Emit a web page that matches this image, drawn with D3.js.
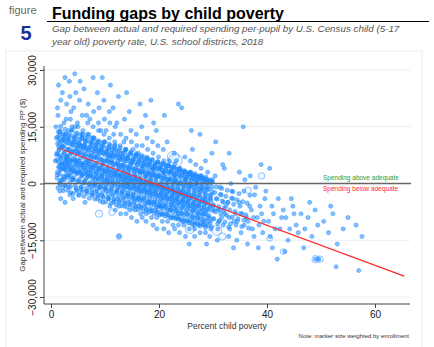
<!DOCTYPE html>
<html><head><meta charset="utf-8">
<script src="https://cdn.jsdelivr.net/npm/d3@7"></script>
<style>
html,body{margin:0;padding:0;background:#fff;}
svg{display:block;font-family:"Liberation Sans",Arial,Helvetica,sans-serif;}
</style></head>
<body>
<svg id="chart" width="434" height="347"></svg>
<script>
// ---------- data ----------
const xTicks = [0, 20, 40, 60];
const yTicks = [-30000, -15000, 0, 15000, 30000];
const regressionX = [1.7, 65.4];
const regressionCoef = [10100, -529]; // intercept, slope per % point
// districts: [percent child poverty, gap ($ thousands)]
const districts = [
[0.8,6],[1.0,12],[1.2,3],[1.3,18],[1.5,9],[1.6,-2],[1.7,14],[1.8,22],[1.9,5],[1.4,26],[1.1,8],[1.7,0.5],[0.9,15],[1.5,11],[1.8,-4],[1.2,20],
[2.1,10],[2.3,4],[2.4,16],[2.6,28],[2.8,7],[2.2,-1],[2.5,12],[2.9,21],[2.7,2],[2.3,13],[2.6,-5],[2.4,8],[2.8,17],[2.1,24],[2.9,6],[2.5,1],
[3.1,9],[3.3,14],[3.5,-3],[3.7,19],[3.2,5],[3.8,11],[3.4,27],[3.6,2],[3.9,15],[3.0,7],[3.5,23],[3.3,-1],[3.7,8],[3.1,12],[3.8,4],[3.6,17],
[4.1,10],[4.3,3],[4.6,13],[4.8,-2],[4.2,20],[4.5,6],[4.9,16],[4.4,29],[4.7,9],[4.0,1],[4.3,12],[4.8,5],[4.6,24],[4.1,-4],[4.9,11],[4.5,15],
[5.1,8],[5.4,13],[5.6,2],[5.8,18],[5.2,-3],[5.5,10],[5.9,5],[5.3,22],[5.7,12],[5.0,15],[5.6,-1],[5.2,6],[5.8,9],[5.4,27],[5.9,14],[5.1,3],
[6.1,7],[6.3,12],[6.6,-2],[6.8,16],[6.2,4],[6.5,9],[6.9,21],[6.4,1],[6.7,13],[6.0,10],[6.3,-5],[6.8,6],[6.6,18],[6.1,25],[6.9,3],[6.4,11],
[7.1,6],[7.4,11],[7.6,-3],[7.8,15],[7.2,2],[7.5,8],[7.9,19],[7.3,-1],[7.7,10],[7.0,13],[7.4,4],[7.8,28],[7.6,7],[7.2,17],[7.9,0],[7.5,12],
[8.1,5],[8.4,10],[8.6,-4],[8.8,14],[8.2,1],[8.5,7],[8.9,20],[8.3,-2],[8.7,9],[8.0,12],[8.4,3],[8.8,16],[8.6,24],[8.2,8],[8.9,-1],[8.5,11],
[9.1,4],[9.4,9],[9.6,-5],[9.8,13],[9.2,0],[9.5,6],[9.9,17],[9.3,-3],[9.7,8],[9.0,11],[9.4,2],[9.8,22],[9.6,5],[9.2,14],[9.9,-1],[9.5,10],
[10.1,3],[10.4,8],[10.6,-4],[10.8,12],[10.2,0],[10.5,6],[10.9,16],[10.3,-2],[10.7,9],[10.0,11],[10.4,1],[10.8,19],[10.6,4],[10.2,14],[10.9,-6],[10.5,7],
[11.1,2],[11.4,7],[11.6,-5],[11.8,11],[11.2,-1],[11.5,5],[11.9,15],[11.3,-3],[11.7,8],[11.0,10],[11.4,0],[11.8,3],[11.6,13],[11.2,6],[11.9,-7],[11.5,20],
[12.1,2],[12.4,6],[12.6,-6],[12.8,10],[12.2,-2],[12.5,4],[12.9,13],[12.3,-4],[12.7,7],[12.0,9],[12.4,-1],[12.8,2],[12.6,-14],[12.2,16],[12.9,-8],[12.5,5],
[13.1,1],[13.4,5],[13.6,-6],[13.8,9],[13.2,-2],[13.5,3],[13.9,12],[13.3,-4],[13.7,6],[13.0,8],[13.4,-1],[13.8,1],[13.6,17],[13.2,4],[13.9,-8],[13.5,11],
[14.1,0],[14.4,4],[14.6,-7],[14.8,8],[14.2,-3],[14.5,2],[14.9,11],[14.3,-5],[14.7,5],[14.0,7],[14.4,-1],[14.8,14],[14.6,1],[14.2,3],[14.9,-9],[14.5,19],
[15.1,0],[15.4,3],[15.6,-7],[15.8,7],[15.2,-3],[15.5,1],[15.9,10],[15.3,-5],[15.7,4],[15.0,6],[15.4,-1],[15.8,13],[15.6,2],[15.2,9],[15.9,-10],[15.5,-4],
[16.1,-1],[16.4,3],[16.6,-8],[16.8,6],[16.2,-4],[16.5,1],[16.9,10],[16.3,-6],[16.7,3],[16.0,5],[16.4,-2],[16.8,15],[16.6,0],[16.2,8],[16.9,-9],[16.5,-4],
[17.1,-1],[17.4,2],[17.6,-8],[17.8,5],[17.2,-4],[17.5,0],[17.9,9],[17.3,-6],[17.7,2],[17.0,4],[17.4,-2],[17.8,12],[17.6,-10],[17.2,7],[17.9,-5],[17.5,18],
[18.1,-2],[18.4,1],[18.6,-9],[18.8,4],[18.2,-5],[18.5,-1],[18.9,8],[18.3,-7],[18.7,2],[18.0,3],[18.4,-3],[18.8,11],[18.6,0],[18.2,6],[18.9,-11],[18.5,-5],
[19.1,-2],[19.4,1],[19.6,-9],[19.8,4],[19.2,-5],[19.5,-1],[19.9,7],[19.3,-7],[19.7,2],[19.0,3],[19.4,-3],[19.8,10],[19.6,-12],[19.2,5],[19.9,-6],[19.5,14],
[20.1,-3],[20.4,0],[20.6,-10],[20.8,3],[20.2,-6],[20.5,-2],[20.9,6],[20.3,-8],[20.7,1],[20.0,2],[20.4,-4],[20.8,9],[20.6,-1],[20.2,4],[20.9,-12],[20.5,-6],
[21.1,-3],[21.4,0],[21.6,-10],[21.8,3],[21.2,-6],[21.5,-2],[21.9,6],[21.3,-8],[21.7,1],[21.0,2],[21.4,-4],[21.8,-13],[21.6,-1],[21.2,5],[21.9,-7],[21.5,11],
[22.1,-4],[22.4,-1],[22.6,-11],[22.8,2],[22.2,-7],[22.5,-3],[22.9,5],[22.3,-9],[22.7,0],[22.0,1],[22.4,-5],[22.8,8],[22.6,-2],[22.2,3],[22.9,-12],[22.5,-6],
[23.1,-4],[23.4,-1],[23.6,-11],[23.8,2],[23.2,-7],[23.5,-3],[23.9,4],[23.3,-9],[23.7,0],[23.0,1],[23.4,-5],[23.6,21],[23.8,-13],[23.2,6],[23.9,-2],[23.5,-8],
[24.1,-5],[24.4,-2],[24.6,-11],[24.8,1],[24.2,-8],[24.5,-4],[24.9,3],[24.3,-10],[24.7,-1],[24.0,0],[24.4,-6],[24.8,7],[24.6,-3],[24.2,20],[24.9,-14],
[25.1,-5],[25.4,-2],[25.6,-12],[25.8,0],[25.2,-8],[25.5,-4],[25.9,3],[25.3,-10],[25.7,-1],[25.0,1],[25.4,-6],[25.8,6],[25.6,-16],[25.2,-3],
[26.1,-6],[26.4,-3],[26.6,-12],[26.8,0],[26.2,-9],[26.5,-5],[26.9,2],[26.3,-11],[26.7,-2],[26.0,1],[26.4,-7],[26.8,5],[26.6,-14],[26.2,9],
[27.1,-6],[27.4,-3],[27.6,-13],[27.8,-1],[27.2,-9],[27.5,-5],[27.9,2],[27.3,-11],[27.7,-2],[27.0,0],[27.4,-8],[27.8,4],[27.6,13],
[28.1,-7],[28.4,-4],[28.6,-13],[28.8,-1],[28.2,-10],[28.5,-5],[28.9,1],[28.3,-11],[28.7,-3],[28.0,0],[28.4,-8],[28.8,-16],[28.6,6],
[29.1,-7],[29.4,-4],[29.6,-12],[29.8,-1],[29.2,-10],[29.5,-6],[29.9,1],[29.3,-9],[29.7,-3],[29.0,3],[29.4,-14],[29.8,8],
[30.2,-7],[30.6,-4],[30.9,-12],[31.3,-1],[31.6,-9],[31.9,-5],[30.4,2],[31.1,-10],[31.5,-3],[30.8,-15],[31.8,5],[30.1,-6],[31.2,-7],
[32.2,-8],[32.7,-5],[33.1,-12],[33.5,-2],[33.9,-10],[32.4,-6],[33.3,0],[32.9,-14],[33.7,-4],[32.1,4],[33.0,-9],[33.8,-17],
[34.2,-8],[34.8,-5],[35.2,-13],[35.7,-2],[34.5,-10],[35.0,-6],[35.9,1],[34.4,-15],[35.4,-8],[34.9,3],[35.6,15],[35.8,-11],
[36.2,-9],[36.8,-6],[37.3,-12],[37.7,-3],[36.5,-10],[37.1,-7],[37.9,-1],[36.4,-16],[37.5,-9],[36.9,2],[37.6,-14],
[38.2,-9],[38.7,-6],[39.2,-13],[39.6,-4],[38.5,-11],[39.0,-8],[39.8,-2],[38.4,-17],[39.4,-10],[38.9,5],
[40.3,-10],[40.9,-6],[41.5,-12],[42.1,-4],[42.7,-9],[40.6,-14],[41.2,-8],[41.9,-20],[42.4,-12],[43.0,-7],[41.0,-17],
[43.5,-9],[44.2,-12],[44.8,-6],[45.4,-11],[43.9,-15],[45.0,-8],[45.8,-13],[44.5,-4],[43.3,-18],
[46.3,-8],[47.0,-12],[47.6,-9],[48.3,-14],[46.8,-17],[48.9,-7],[49.4,-11],[47.9,-5],[49.0,-20],[49.6,-20],
[50.5,-10],[51.4,-13],[52.2,-8],[53.0,-16],[54.1,-12],[55.0,-9],[52.8,-22],[56.5,-11],[57.6,-14],[51.8,-6],[57.0,-23],
[18.5,22],[21.0,18],[14.0,24],[26.0,14],[30.5,11],[33.0,8],[40.5,4],[19.0,16],[11.0,26],[9.5,28],[16.5,21],[12.5,23]
];
// dense core of districts: [percent child poverty, gap ($ thousands)]
const coreDistricts = [
[1.07,6.2],[1.13,1.4],[1.21,10.5],[1.28,-1.1],[1.36,13.7],[1.41,4.3],[1.49,8.9],[1.55,2.6],[1.62,11.8],[1.68,6.9],[1.74,-0.3],[1.79,15.1],[1.85,3.7],[1.91,9.6],[1.96,5.2],[1.33,7.8],[1.58,12.9],[1.87,0.8],
[2.04,5.7],[2.11,0.9],[2.18,9.8],[2.26,-1.9],[2.33,12.6],[2.39,3.8],[2.46,8.2],[2.52,1.7],[2.61,14.3],[2.67,6.4],[2.73,-0.6],[2.78,10.9],[2.84,4.6],[2.92,7.3],[2.97,2.9],[2.29,11.4],[2.56,5.1],[2.89,13.2],
[3.03,5.4],[3.09,-1.8],[3.17,9.1],[3.24,2.2],[3.31,12.7],[3.38,4.1],[3.44,7.6],[3.51,0.3],[3.58,10.4],[3.63,6.3],[3.71,-2.4],[3.77,13.9],[3.83,3.4],[3.88,8.5],[3.95,1.2],[3.27,11.6],[3.55,5.8],[3.92,14.2],
[4.02,4.8],[4.08,-2.7],[4.15,8.6],[4.23,1.5],[4.29,12.1],[4.36,3.6],[4.43,7.1],[4.49,-0.4],[4.57,10.2],[4.62,5.7],[4.69,-1.6],[4.76,13.4],[4.82,2.8],[4.89,8.0],[4.94,0.6],[4.32,11.0],[4.53,6.2],[4.97,9.3],
[5.04,4.4],[5.12,-3.1],[5.18,8.3],[5.25,1.1],[5.31,11.6],[5.38,3.2],[5.45,6.7],[5.52,-0.9],[5.59,9.8],[5.64,5.3],[5.72,-2.2],[5.78,12.8],[5.84,2.4],[5.91,7.6],[5.97,0.2],[5.29,10.5],[5.55,4.9],[5.86,13.1],
[6.03,4.0],[6.1,-3.4],[6.17,7.9],[6.24,0.7],[6.32,11.2],[6.37,2.9],[6.44,6.2],[6.51,-1.3],[6.57,9.4],[6.65,4.8],[6.71,-2.6],[6.79,12.3],[6.85,2.0],[6.9,7.1],[6.96,-0.2],[6.28,10.1],[6.6,5.5],[6.88,8.6],
[7.05,3.6],[7.11,-3.9],[7.19,7.4],[7.26,0.3],[7.33,10.7],[7.39,2.5],[7.46,5.8],[7.53,-1.7],[7.6,8.9],[7.66,4.3],[7.73,-3.0],[7.8,11.8],[7.86,1.6],[7.93,6.6],[7.98,-0.6],[7.3,9.7],[7.57,4.9],[7.89,12.1],
[8.04,3.2],[8.1,-4.1],[8.18,7.0],[8.25,-0.1],[8.31,10.2],[8.38,2.1],[8.45,5.4],[8.52,-2.0],[8.58,8.5],[8.65,3.9],[8.72,-3.3],[8.78,11.3],[8.85,1.2],[8.91,6.2],[8.97,-1.0],[8.28,9.2],[8.55,4.6],[8.93,7.7],
[9.03,2.8],[9.09,-4.6],[9.17,6.5],[9.24,-0.5],[9.3,9.8],[9.37,1.7],[9.44,5.0],[9.51,-2.4],[9.58,8.1],[9.64,3.4],[9.71,-3.7],[9.77,10.9],[9.84,0.8],[9.9,5.8],[9.96,-1.4],[9.27,8.8],[9.54,4.1],[9.87,11.0],
[10.04,2.4],[10.11,-4.9],[10.17,6.1],[10.25,-0.9],[10.32,9.3],[10.38,1.3],[10.45,4.6],[10.52,-2.8],[10.58,7.6],[10.66,3.0],[10.72,-4.0],[10.79,10.4],[10.85,0.4],[10.91,5.4],[10.98,-1.8],[10.29,8.4],[10.56,3.7],[10.88,7.1],
[11.03,2.0],[11.1,-5.2],[11.16,5.7],[11.24,-1.3],[11.31,8.9],[11.37,0.9],[11.44,4.2],[11.5,-3.1],[11.57,7.2],[11.64,2.6],[11.71,-4.4],[11.78,9.9],[11.84,0.0],[11.9,5.0],[11.97,-2.2],[11.27,8.0],[11.54,3.3],[11.87,10.1],
[12.05,1.6],[12.12,-5.6],[12.18,5.3],[12.25,-1.7],[12.33,8.4],[12.39,0.5],[12.46,3.8],[12.53,-3.5],[12.6,6.8],[12.66,2.2],[12.73,-4.8],[12.8,9.4],[12.86,-0.4],[12.92,4.6],[12.98,-2.6],[12.3,7.6],[12.57,2.9],[12.89,6.3],
[13.04,1.2],[13.1,-5.9],[13.18,4.9],[13.25,-2.1],[13.31,8.0],[13.38,0.1],[13.45,3.4],[13.52,-3.9],[13.58,6.4],[13.65,1.8],[13.72,-5.1],[13.78,8.9],[13.85,-0.8],[13.91,4.2],[13.97,-3.0],[13.28,7.2],[13.55,2.5],[13.88,9.0],
[14.03,0.8],[14.09,-6.3],[14.17,4.5],[14.24,-2.5],[14.3,7.5],[14.37,-0.3],[14.44,3.0],[14.51,-4.3],[14.57,6.0],[14.64,1.4],[14.71,-5.5],[14.77,8.4],[14.84,-1.2],[14.9,3.8],[14.96,-3.4],[14.27,6.8],[14.54,2.1],[14.87,5.3],
[15.04,0.4],[15.11,-6.6],[15.17,4.1],[15.25,-2.9],[15.32,7.1],[15.38,-0.7],[15.45,2.6],[15.52,-4.7],[15.58,5.6],[15.66,1.0],[15.72,-5.9],[15.79,7.9],[15.85,-1.6],[15.91,3.4],[15.98,-3.8],[15.29,6.4],[15.56,1.7],[15.88,7.6],
[16.03,0.0],[16.1,-6.9],[16.16,3.7],[16.24,-3.3],[16.31,6.6],[16.37,-1.1],[16.44,2.2],[16.5,-5.1],[16.57,5.2],[16.64,0.6],[16.71,-6.3],[16.78,7.4],[16.84,-2.0],[16.9,3.0],[16.97,-4.2],[16.27,6.0],[16.54,1.3],[16.87,4.5],
[17.05,-0.4],[17.12,-7.3],[17.18,3.3],[17.25,-3.7],[17.33,6.2],[17.39,-1.5],[17.46,1.8],[17.53,-5.5],[17.6,4.8],[17.66,0.2],[17.73,-6.7],[17.8,6.9],[17.86,-2.4],[17.92,2.6],[17.98,-4.6],[17.3,5.6],[17.57,0.9],[17.89,6.6],
[18.04,-0.8],[18.1,-7.6],[18.18,2.9],[18.25,-4.1],[18.31,5.8],[18.38,-1.9],[18.45,1.4],[18.52,-5.9],[18.58,4.4],[18.65,-0.2],[18.72,-7.1],[18.78,6.4],[18.85,-2.8],[18.91,2.2],[18.97,-5.0],[18.28,5.2],[18.55,0.5],[18.88,3.7],
[19.03,-1.2],[19.09,-8.0],[19.17,2.5],[19.24,-4.5],[19.3,5.3],[19.37,-2.3],[19.44,1.0],[19.51,-6.3],[19.57,4.0],[19.64,-0.6],[19.71,-7.5],[19.77,5.8],[19.84,-3.2],[19.9,1.8],[19.96,-5.4],[19.27,4.8],[19.54,0.1],[19.87,5.6],
[20.04,-1.6],[20.11,-8.3],[20.17,2.1],[20.25,-4.9],[20.32,4.9],[20.38,-2.7],[20.45,0.6],[20.52,-6.7],[20.58,3.6],[20.66,-1.0],[20.72,-7.9],[20.79,5.3],[20.85,-3.6],[20.91,1.4],[20.98,-5.8],[20.29,4.4],[20.56,-0.3],[20.88,3.0],
[21.03,-2.0],[21.1,-8.6],[21.16,1.7],[21.24,-5.3],[21.31,4.5],[21.37,-3.1],[21.44,0.2],[21.5,-7.1],[21.57,3.2],[21.64,-1.4],[21.71,-8.2],[21.78,4.8],[21.84,-4.0],[21.9,1.0],[21.97,-6.2],[21.27,4.0],[21.54,-0.7],[21.87,4.6],
[22.05,-2.4],[22.12,-9.0],[22.18,1.3],[22.25,-5.7],[22.33,4.1],[22.39,-3.5],[22.46,-0.2],[22.53,-7.5],[22.6,2.8],[22.66,-1.8],[22.73,-8.6],[22.8,4.2],[22.86,-4.4],[22.92,0.6],[22.98,-6.6],[22.3,3.6],[22.57,-1.1],[22.89,2.3],
[23.04,-2.8],[23.1,-9.3],[23.18,0.9],[23.25,-6.1],[23.31,3.7],[23.38,-3.9],[23.45,-0.6],[23.52,-7.9],[23.58,2.4],[23.65,-2.2],[23.72,-9.0],[23.78,3.7],[23.85,-4.8],[23.91,0.2],[23.97,-7.0],[23.28,3.2],[23.55,-1.5],[23.88,3.5],
[24.03,-3.2],[24.09,-9.6],[24.17,0.5],[24.24,-6.5],[24.3,3.2],[24.37,-4.3],[24.44,-1.0],[24.51,-8.3],[24.57,2.0],[24.64,-2.6],[24.71,-9.4],[24.77,3.1],[24.84,-5.2],[24.9,-0.2],[24.96,-7.4],[24.27,2.8],[24.54,-1.9],[24.87,1.6],
[25.04,-3.6],[25.11,-9.9],[25.17,0.1],[25.25,-6.9],[25.32,2.7],[25.38,-4.7],[25.45,-1.4],[25.52,-8.7],[25.58,1.6],[25.66,-3.0],[25.72,-9.8],[25.79,2.6],[25.85,-5.6],[25.91,-0.6],[25.98,-7.8],[25.29,2.4],[25.56,-2.3],[25.88,2.5],
[26.03,-4.0],[26.1,-10.2],[26.16,-0.3],[26.24,-7.3],[26.31,2.3],[26.37,-5.1],[26.44,-1.8],[26.5,-9.1],[26.57,1.2],[26.64,-3.4],[26.71,-10.2],[26.78,2.1],[26.84,-6.0],[26.9,-1.0],[26.97,-8.2],[26.27,2.0],[26.54,-2.7],[26.87,0.8],
[27.05,-4.4],[27.12,-10.5],[27.18,-0.7],[27.25,-7.7],[27.33,1.9],[27.39,-5.5],[27.46,-2.2],[27.53,-9.5],[27.6,0.8],[27.66,-3.8],[27.73,-10.6],[27.8,1.5],[27.86,-6.4],[27.92,-1.4],[27.98,-8.6],[27.3,1.6],[27.57,-3.1],[27.89,1.3],
[28.04,-4.8],[28.1,-10.8],[28.18,-1.1],[28.25,-8.1],[28.31,1.4],[28.38,-5.9],[28.45,-2.6],[28.52,-9.9],[28.58,0.4],[28.65,-4.2],[28.72,-11.0],[28.78,1.0],[28.85,-6.8],[28.91,-1.8],[28.97,-9.0],[28.28,1.2],[28.55,-3.5],[28.88,0.1],
[29.03,-5.2],[29.09,-11.1],[29.17,-1.5],[29.24,-8.5],[29.3,0.9],[29.37,-6.3],[29.44,-3.0],[29.51,-10.3],[29.57,0.0],[29.64,-4.6],[29.71,-11.4],[29.77,0.5],[29.84,-7.2],[29.9,-2.2],[29.96,-9.4],[29.27,0.8],[29.54,-3.9],[29.87,0.4]
];
// second layer of the dense core: [percent child poverty, gap ($ thousands)]
const coreDistricts2 = [
[1.02,7.6],[1.16,2.3],[1.23,12.3],[1.37,5.7],[1.44,9.8],[1.61,0.1],[1.69,13.5],[1.76,3.8],[1.82,6.7],[1.94,11.1],[1.53,4.6],
[2.02,7.3],[2.16,1.9],[2.23,11.7],[2.37,5.2],[2.44,9.5],[2.61,-0.4],[2.69,13.0],[2.76,3.5],[2.82,6.2],[2.94,10.6],[2.53,4.1],
[3.02,6.7],[3.16,1.6],[3.23,11.5],[3.37,4.8],[3.44,9.0],[3.61,-0.8],[3.69,12.6],[3.76,3.0],[3.82,5.9],[3.94,10.3],[3.53,3.7],
[4.02,6.4],[4.16,1.0],[4.23,11.0],[4.37,4.5],[4.44,8.4],[4.61,-1.2],[4.69,12.2],[4.76,2.5],[4.82,5.5],[4.94,9.9],[4.53,3.3],
[5.02,5.9],[5.16,0.6],[5.23,10.6],[5.37,4.0],[5.44,8.1],[5.61,-1.6],[5.69,11.8],[5.76,2.1],[5.82,5.0],[5.94,9.4],[5.53,2.9],
[6.02,5.4],[6.16,0.1],[6.23,10.1],[6.37,3.5],[6.44,7.6],[6.61,-2.1],[6.69,11.3],[6.76,1.6],[6.82,4.5],[6.94,8.9],[6.53,2.4],
[7.02,5.0],[7.16,-0.3],[7.23,9.7],[7.37,3.1],[7.44,7.2],[7.61,-2.5],[7.69,10.9],[7.76,1.2],[7.82,4.1],[7.94,8.5],[7.53,2.0],
[8.02,4.6],[8.16,-0.7],[8.23,9.3],[8.37,2.7],[8.44,6.8],[8.61,-2.9],[8.69,10.5],[8.76,0.8],[8.82,3.7],[8.94,8.1],[8.53,1.6],
[9.02,4.1],[9.16,-1.2],[9.23,8.8],[9.37,2.2],[9.44,6.3],[9.61,-3.4],[9.69,10.0],[9.76,0.3],[9.82,3.2],[9.94,7.6],[9.53,1.1],
[10.02,3.7],[10.16,-1.6],[10.23,8.4],[10.37,1.8],[10.44,5.9],[10.61,-3.8],[10.69,9.6],[10.76,-0.1],[10.82,2.8],[10.94,7.2],[10.53,0.7],
[11.02,3.3],[11.16,-2.0],[11.23,8.0],[11.37,1.4],[11.44,5.5],[11.61,-4.2],[11.69,9.2],[11.76,-0.5],[11.82,2.4],[11.94,6.8],[11.53,0.3],
[12.02,2.8],[12.16,-2.5],[12.23,7.5],[12.37,0.9],[12.44,5.0],[12.61,-4.7],[12.69,8.7],[12.76,-1.0],[12.82,1.9],[12.94,6.3],[12.53,-0.2],
[13.02,2.4],[13.16,-2.9],[13.23,7.1],[13.37,0.5],[13.44,4.6],[13.61,-5.1],[13.69,8.3],[13.76,-1.4],[13.82,1.5],[13.94,5.9],[13.53,-0.6],
[14.02,1.9],[14.16,-3.4],[14.23,6.6],[14.37,0.0],[14.44,4.1],[14.61,-5.6],[14.69,7.8],[14.76,-1.9],[14.82,1.0],[14.94,5.4],[14.53,-1.1],
[15.02,1.5],[15.16,-3.8],[15.23,6.2],[15.37,-0.4],[15.44,3.7],[15.61,-6.0],[15.69,7.4],[15.76,-2.3],[15.82,0.6],[15.94,5.0],[15.53,-1.5],
[16.02,1.1],[16.16,-4.2],[16.23,5.8],[16.37,-0.8],[16.44,3.3],[16.61,-6.4],[16.69,7.0],[16.76,-2.7],[16.82,0.2],[16.94,4.6],[16.53,-1.9],
[17.02,0.6],[17.16,-4.7],[17.23,5.3],[17.37,-1.3],[17.44,2.8],[17.61,-6.9],[17.69,6.5],[17.76,-3.2],[17.82,-0.3],[17.94,4.1],[17.53,-2.4],
[18.02,0.2],[18.16,-5.1],[18.23,4.9],[18.37,-1.7],[18.44,2.4],[18.61,-7.3],[18.69,6.1],[18.76,-3.6],[18.82,-0.7],[18.94,3.7],[18.53,-2.8],
[19.02,-0.3],[19.16,-5.6],[19.23,4.4],[19.37,-2.2],[19.44,1.9],[19.61,-7.8],[19.69,5.6],[19.76,-4.1],[19.82,-1.2],[19.94,3.2],[19.53,-3.3],
[20.02,-0.7],[20.16,-6.0],[20.23,4.0],[20.37,-2.6],[20.44,1.5],[20.61,-8.2],[20.69,5.2],[20.76,-4.5],[20.82,-1.6],[20.94,2.8],[20.53,-3.7],
[21.02,-1.1],[21.16,-6.4],[21.23,3.6],[21.37,-3.0],[21.44,1.1],[21.61,-8.6],[21.69,4.8],[21.76,-4.9],[21.82,-2.0],[21.94,2.4],[21.53,-4.1],
[22.02,-1.6],[22.16,-6.9],[22.23,3.1],[22.37,-3.5],[22.44,0.6],[22.61,-9.1],[22.69,4.3],[22.76,-5.4],[22.82,-2.5],[22.94,1.9],[22.53,-4.6],
[23.02,-2.0],[23.16,-7.3],[23.23,2.7],[23.37,-3.9],[23.44,0.2],[23.61,-9.5],[23.69,3.9],[23.76,-5.8],[23.82,-2.9],[23.94,1.5],[23.53,-5.0],
[24.02,-2.5],[24.16,-7.8],[24.23,2.2],[24.37,-4.4],[24.44,-0.3],[24.61,-10.0],[24.69,3.4],[24.76,-6.3],[24.82,-3.4],[24.94,1.0],[24.53,-5.5],
[25.02,-2.9],[25.16,-8.2],[25.23,1.8],[25.37,-4.8],[25.44,-0.7],[25.61,-10.4],[25.69,3.0],[25.76,-6.7],[25.82,-3.8],[25.94,0.6],[25.53,-5.9],
[26.02,-3.3],[26.16,-8.6],[26.23,1.4],[26.37,-5.2],[26.44,-1.1],[26.61,-10.8],[26.69,2.6],[26.76,-7.1],[26.82,-4.2],[26.94,0.2],[26.53,-6.3],
[27.02,-3.8],[27.16,-9.1],[27.23,0.9],[27.37,-5.7],[27.44,-1.6],[27.61,-11.3],[27.69,2.1],[27.76,-7.6],[27.82,-4.7],[27.94,-0.3],[27.53,-6.8],
[28.02,-4.2],[28.16,-9.5],[28.23,0.5],[28.37,-6.1],[28.44,-2.0],[28.61,-11.7],[28.69,1.7],[28.76,-8.0],[28.82,-5.1],[28.94,-0.7],[28.53,-7.2]
];
// thinning tail of the core: [percent child poverty, gap ($ thousands)]
const tailDistricts = [
[30.05,-5.6],[30.18,-9.3],[30.33,-2.4],[30.47,-7.5],[30.62,-0.9],[30.76,-4.1],[30.88,-10.6],[30.95,-6.8],
[31.04,-6.1],[31.2,-9.8],[31.36,-2.9],[31.45,-8.0],[31.61,-1.3],[31.73,-4.6],[31.86,-11.0],[31.97,-7.2],
[32.06,-6.5],[32.21,-10.2],[32.37,-3.4],[32.52,-8.4],[32.64,-1.8],[32.79,-5.0],[32.9,-11.5],
[33.08,-7.0],[33.26,-10.6],[33.41,-3.9],[33.55,-8.9],[33.68,-2.2],[33.84,-5.5],
[34.07,-7.4],[34.28,-11.0],[34.46,-4.3],[34.63,-9.3],[34.81,-2.7],
[35.12,-7.9],[35.33,-11.4],[35.5,-4.8],[35.74,-9.7],
[36.1,-8.3],[36.35,-5.2],[36.6,-11.8],[36.85,-3.1]
];
// large districts: [percent child poverty, gap ($ thousands), enrollment]
const largeDistricts = [
[22.6,7,60000],[23.0,6,90000],[25.7,-12,40000],[30.7,-12.4,45000],[49.0,-20,25000],[49.8,-20,20000],
[39.0,2,20000],[8.9,-8,25000],[11.3,-7.6,20000],[12.6,-14,15000],[31.7,-14,25000],[43.0,-18,15000],
[40.5,-14.5,15000],[36.5,-1.8,20000],[18.0,3,30000],[14.0,-3,25000],[20.0,-6,35000]
];
const smallEnrollment = 1200;

// ---------- drawing ----------
const svg = d3.select("#chart");
const x = d3.scaleLinear().domain([0, 60]).range([51, 375]);
const y = d3.scaleLinear().domain([-30000, 30000]).range([297, 70]);
const r = d3.scaleSqrt().domain([0, 90000]).range([0, 7]);

// frame
svg.append("rect").attr("x", 6).attr("y", 51).attr("width", 416).attr("height", 300)
  .attr("fill", "none").attr("stroke", "#ececec").attr("stroke-width", 1);

// header
svg.append("text").attr("x", 9).attr("y", 14).attr("font-size", 11).attr("fill", "#666").text("figure");
svg.append("text").attr("x", 26).attr("y", 40).attr("text-anchor", "middle").attr("font-size", 20)
  .attr("font-weight", "bold").attr("fill", "#1b2d94").text("5");
svg.append("text").attr("x", 52).attr("y", 18.5).attr("font-size", 16).attr("font-weight", "bold")
  .attr("fill", "#000").text("Funding gaps by child poverty");
svg.append("line").attr("x1", 47).attr("x2", 429).attr("y1", 21.5).attr("y2", 21.5)
  .attr("stroke", "#000").attr("stroke-width", 1.2);
const sub = svg.append("text").attr("font-size", 9.8).attr("font-style", "italic").attr("fill", "#555");
sub.append("tspan").attr("x", 52).attr("y", 32).text("Gap between actual and required spending per-pupil by U.S. Census child (5-17");
sub.append("tspan").attr("x", 52).attr("y", 44.5).text("year old) poverty rate, U.S. school districts, 2018");

// gridlines
svg.append("g").selectAll("line").data(yTicks.filter(d => d !== 0)).join("line")
  .attr("x1", 44).attr("x2", 410).attr("y1", d => y(d)).attr("y2", d => y(d))
  .attr("stroke", "#e6eef0").attr("stroke-width", 1);

// points
const small = districts.concat(coreDistricts, coreDistricts2, tailDistricts)
  .map(d => ({p: d[0], g: d[1] * 1000, e: smallEnrollment}));
const large = largeDistricts.map(d => ({p: d[0], g: d[1] * 1000, e: d[2]}));
svg.append("g").selectAll("circle").data(small).join("circle")
  .attr("cx", d => x(d.p)).attr("cy", d => y(d.g)).attr("r", 2.1)
  .attr("fill", "rgba(30,136,255,0.55)")
  .attr("stroke", "rgba(30,136,255,0.6)").attr("stroke-width", 0.7);
svg.append("g").selectAll("circle").data(large).join("circle")
  .attr("cx", d => x(d.p)).attr("cy", d => y(d.g)).attr("r", d => r(d.e))
  .attr("fill", "rgba(30,136,255,0.06)")
  .attr("stroke", "rgba(30,136,255,0.6)").attr("stroke-width", 0.8);

// zero line
svg.append("line").attr("x1", 44).attr("x2", 411).attr("y1", y(0)).attr("y2", y(0))
  .attr("stroke", "#666").attr("stroke-width", 1.5);

// regression line
svg.append("line")
  .attr("x1", x(regressionX[0])).attr("y1", y(regressionCoef[0] + regressionCoef[1] * regressionX[0]))
  .attr("x2", x(regressionX[1])).attr("y2", y(regressionCoef[0] + regressionCoef[1] * regressionX[1]))
  .attr("stroke", "#ff2a2a").attr("stroke-width", 1.2);

// legend labels
svg.append("text").attr("x", 323).attr("y", 180).attr("font-size", 6.5).attr("fill", "#2e9a2e").text("Spending above adequate");
svg.append("text").attr("x", 323).attr("y", 191).attr("font-size", 6.5).attr("fill", "#ff2a2a").text("Spending below adequate");

// axes
const yAxis = svg.append("g").attr("transform", "translate(44,0)")
  .call(d3.axisLeft(y).tickValues(yTicks).tickSize(4).tickFormat(d3.format(",")));
yAxis.select(".domain").attr("d", "M0,66V304").attr("stroke", "#444");
yAxis.selectAll(".tick line").attr("stroke", "#444");
yAxis.selectAll(".tick text").attr("font-size", 10).attr("fill", "#222")
  .attr("x", 0).attr("dy", 0).attr("text-anchor", "middle")
  .attr("transform", "translate(-8,0) rotate(-90)");

const xAxis = svg.append("g").attr("transform", "translate(0,304)")
  .call(d3.axisBottom(x).tickValues(xTicks).tickSize(4));
xAxis.select(".domain").attr("d", "M44,0H410").attr("stroke", "#444");
xAxis.selectAll(".tick line").attr("stroke", "#444");
xAxis.selectAll(".tick text").attr("font-size", 10).attr("fill", "#222").attr("y", 7);

svg.append("text").attr("transform", "translate(25,185) rotate(-90)").attr("text-anchor", "middle")
  .attr("font-size", 7.8).attr("fill", "#333").text("Gap between actual and required spending PP ($)");
svg.append("text").attr("x", 227).attr("y", 329).attr("text-anchor", "middle")
  .attr("font-size", 8.5).attr("fill", "#333").text("Percent child poverty");
svg.append("text").attr("x", 409).attr("y", 338).attr("text-anchor", "end")
  .attr("font-size", 6).attr("fill", "#333").text("Note: marker size weighted by enrollment");
</script>
</body></html>
